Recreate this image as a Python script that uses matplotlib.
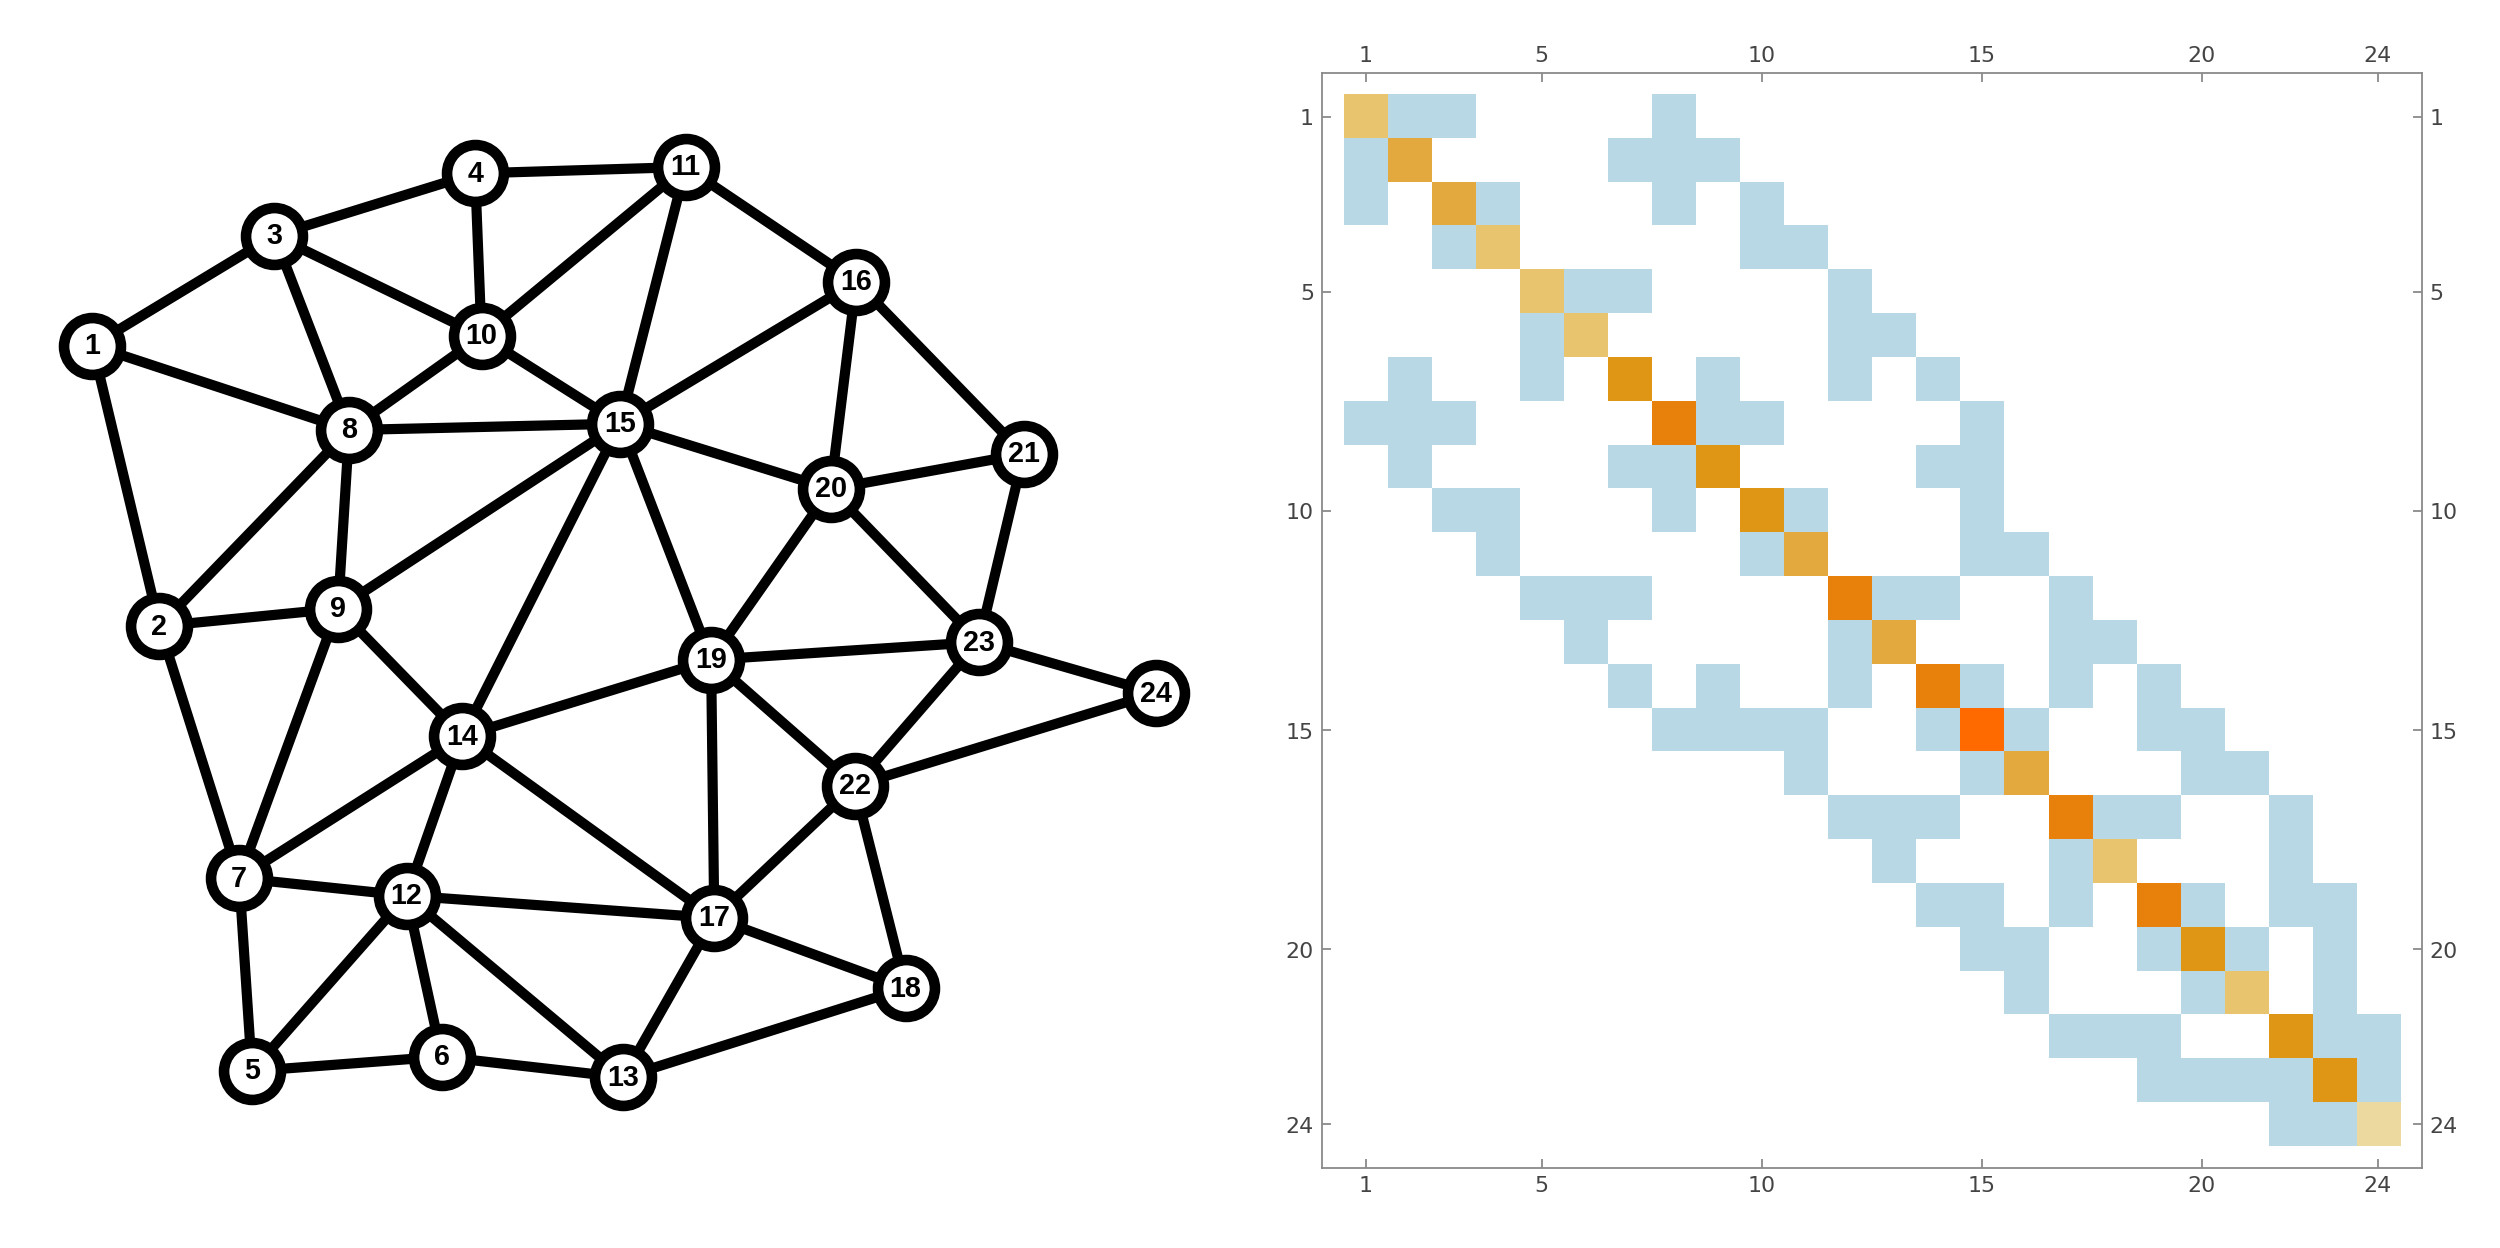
import matplotlib
matplotlib.use("Agg")
import matplotlib.pyplot as plt
import numpy as np
from matplotlib.colors import to_rgba

nodes = list(range(1, 25))
pos_x = [58,100,172,298,158,277,150,219,212,302,430,255,391,290,389,537,448,568,446,521,642,536,614,725]
pos_y = [217,393,148,109,672,663,551,270,382,211,105,562,676,462,266,177,576,620,414,307,285,493,403,435]
edges = [(1,3),(1,8),(1,2),(3,4),(3,10),(3,8),(4,11),(4,10),(11,10),(11,15),(11,16),
         (10,8),(10,15),(16,15),(16,20),(16,21),(8,15),(8,2),(8,9),(2,9),(2,7),
         (9,15),(9,7),(9,14),(15,14),(15,20),(15,19),(20,21),(20,19),(20,23),(21,23),
         (19,23),(19,14),(19,22),(19,17),(23,24),(23,22),(22,24),(22,17),(22,18),
         (14,7),(14,12),(14,17),(7,12),(7,5),(12,5),(12,6),(12,13),(12,17),
         (17,13),(17,18),(5,6),(6,13),(13,18)]
degree_colors = {2:"#EBD9A0",3:"#E8C46E",4:"#E3A93E",5:"#DF9614",6:"#E8800C",8:"#FF6A00"}
off_color = "#B8D8E6"

W, H = 1568, 783
fig = plt.figure(figsize=(W/100, H/100), dpi=2500/(W/100))

# graph
ax = fig.add_axes([0, 0, 760/W, 1])
ax.set_xlim(0, 760); ax.set_ylim(H, 0); ax.axis("off")
for a, b in edges:
    ax.plot([pos_x[a-1], pos_x[b-1]], [pos_y[a-1], pos_y[b-1]], color="black", lw=4.6, zorder=1, solid_capstyle="round")
ax.scatter(pos_x, pos_y, s=660, facecolor="white", edgecolor="black", linewidth=4.8, zorder=2)
for n, x, y in zip(nodes, pos_x, pos_y):
    ax.text(x, y, str(n), ha="center", va="center", fontsize=13, fontweight="bold",
            family=["Liberation Sans", "DejaVu Sans"], zorder=3)

# matrix
N = len(nodes)
deg = np.zeros(N, int)
A = np.zeros((N, N), bool)
for a, b in edges:
    A[a-1, b-1] = A[b-1, a-1] = True
    deg[a-1] += 1; deg[b-1] += 1
img = np.ones((N, N, 4))
for i in range(N):
    for j in range(N):
        if i == j:
            img[i, j] = to_rgba(degree_colors[deg[i]])
        elif A[i, j]:
            img[i, j] = to_rgba(off_color)
ax2 = fig.add_axes([829/W, (H-733)/H, 690/W, 687/H])
ax2.imshow(img, extent=(0.5, N+0.5, N+0.5, 0.5), interpolation="nearest", aspect="auto")
ax2.set_xlim(0, 25); ax2.set_ylim(25, 0)
ticks = [1, 5, 10, 15, 20, 24]
ax2.set_xticks(ticks); ax2.set_yticks(ticks)
ax2.tick_params(top=True, right=True, labeltop=True, labelright=True, direction="in",
                length=4, color="#888888", labelsize=10, labelcolor="#444444")
for s in ax2.spines.values():
    s.set_color("#888888")
fig.savefig("out.png")
